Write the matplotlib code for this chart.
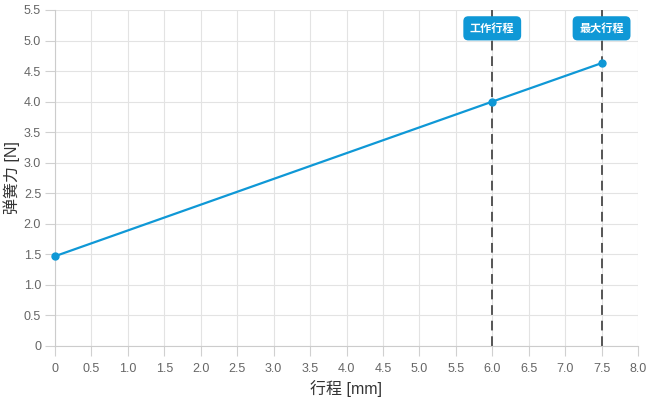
import numpy as np
import matplotlib.pyplot as plt

plt.rcParams['font.family'] = ['Liberation Sans', 'Noto Sans CJK SC', 'DejaVu Sans']

# 行程 / 弹簧力 数据
stroke = [0, 6.0, 7.5]
force = [1.47, 4.0, 4.63]
marker_lines = [6.0, 7.5]
marker_labels = ['工作行程', '最大行程']
x_ticks = np.arange(0, 8.01, 0.5)
y_ticks = np.arange(0, 5.51, 0.5)
x_tick_labels = ['0'] + ['%.1f' % v for v in x_ticks[1:]]
y_tick_labels = ['0'] + ['%.1f' % v for v in y_ticks[1:]]

blue = '#0f98d6'

fig = plt.figure(figsize=(6.5, 4), dpi=100)
ax = fig.add_axes([55/650, 1 - 346/400, (638 - 55)/650, (346 - 10)/400])

ax.plot(stroke, force, color=blue, lw=1.6, marker='o', ms=5, zorder=3, clip_on=False)

for xv, lab in zip(marker_lines, marker_labels):
    ax.axvline(xv, color='#555555', lw=1.4, ls=(0, (5, 3)), zorder=2)
    ax.text(xv, 5.2, lab, ha='center', va='center', color='white', fontsize=8,
            fontweight='bold', zorder=4,
            bbox=dict(boxstyle='round,pad=0.6,rounding_size=0.45', fc=blue, ec='none'))

ax.set_xlim(0, 8.0)
ax.set_ylim(0, 5.5)
ax.set_xticks(x_ticks)
ax.set_xticklabels(x_tick_labels)
ax.set_yticks(y_ticks)
ax.set_yticklabels(y_tick_labels)
ax.grid(True, color='#e3e3e3', lw=0.8)
ax.tick_params(colors='#d0d0d0', labelcolor='#666666', labelsize=9, length=7, width=0.8, pad=3)
ax.tick_params(axis='x', pad=5)

for s in ['top', 'right']:
    ax.spines[s].set_visible(False)
for s in ['left', 'bottom']:
    ax.spines[s].set_color('#cccccc')

ax.set_xlabel('行程 [mm]', fontsize=11.5, color='#333333', labelpad=4)
ax.set_ylabel('弹簧力 [N]', fontsize=11.5, color='#333333', labelpad=3)

plt.savefig('out.png', dpi=100)
